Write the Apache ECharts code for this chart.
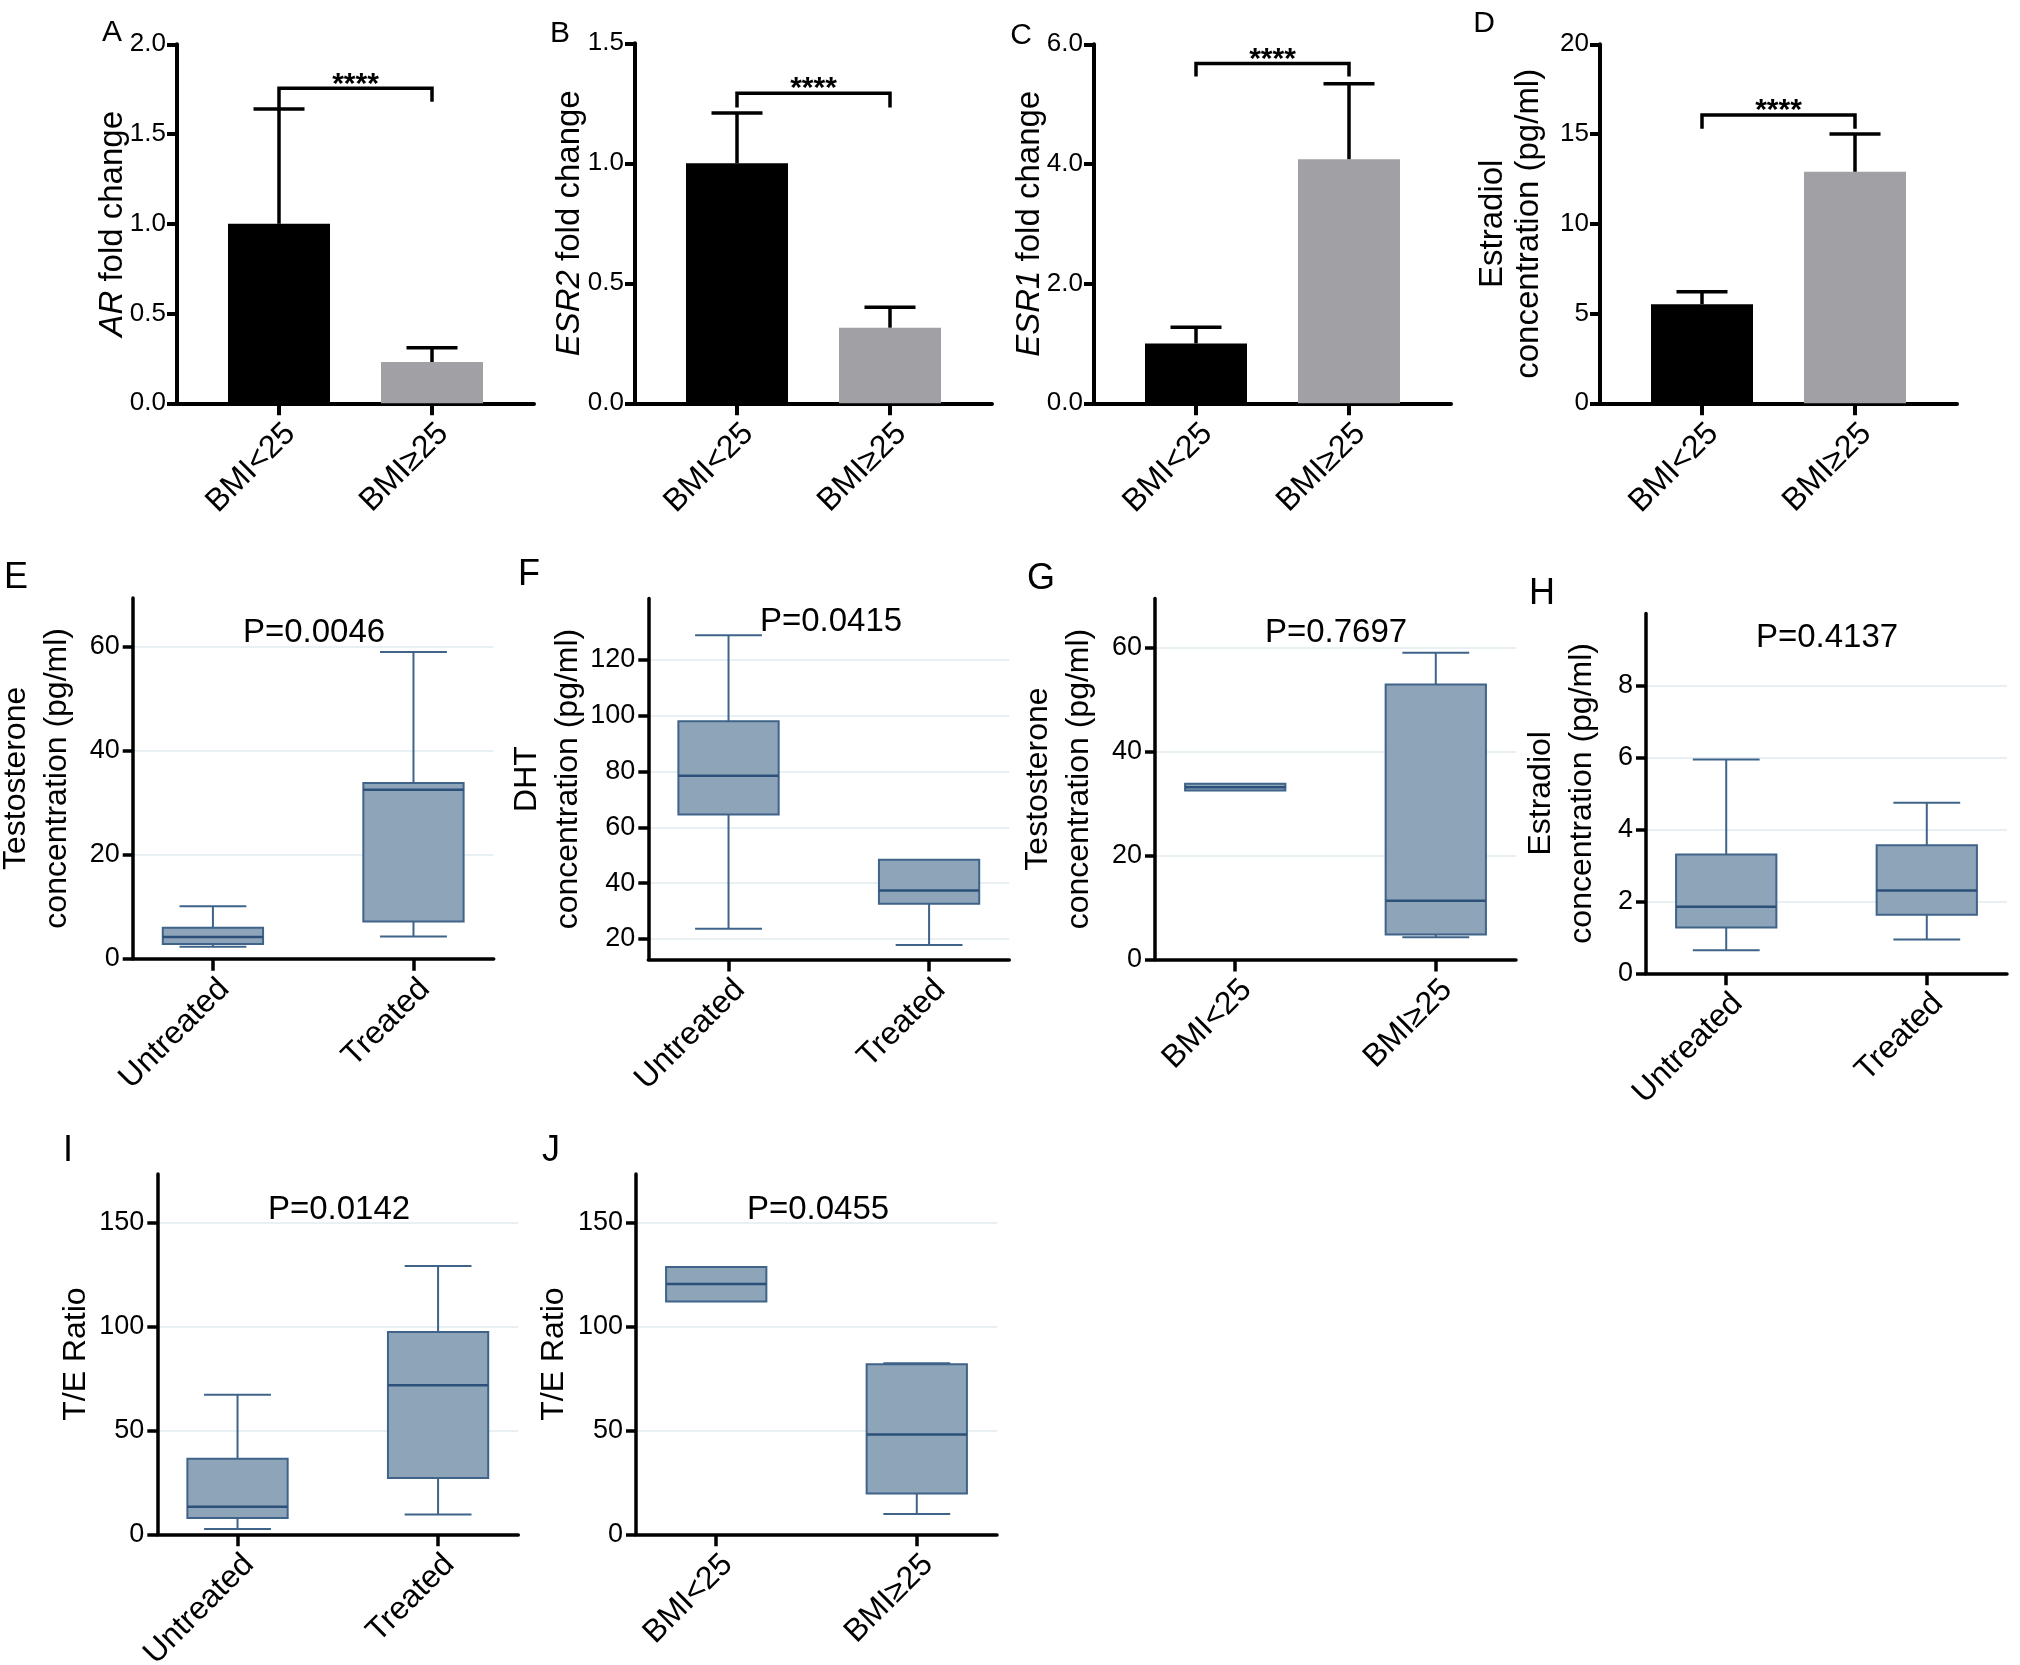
<!DOCTYPE html>
<html>
<head>
<meta charset="utf-8">
<script src="https://cdn.jsdelivr.net/npm/echarts@6/dist/echarts.min.js"></script>
<style>
  html, body { margin: 0; padding: 0; background: #fff; }
  #main { width: 2020px; height: 1665px; }
</style>
</head>
<body>
<div id="main"></div>
<script>
// groups
var bmiGroups = ['BMI<25', 'BMI≥25'];
var treatGroups = ['Untreated', 'Treated'];

// A-D: mean and top of error bar
var arMean = [1.0, 0.23];
var arErr = [1.64, 0.31];
var esr2Mean = [1.0, 0.315];
var esr2Err = [1.21, 0.40];
var esr1Mean = [1.0, 4.08];
var esr1Err = [1.27, 5.34];
var e2BarMean = [5.52, 12.9];
var e2BarErr = [6.22, 15.0];

// significance brackets: [top, left drop, right drop]
var sigA = [1.755, 1.64, 1.68];
var sigB = [1.292, 1.232, 1.232];
var sigC = [5.68, 5.46, 5.46];
var sigD = [16.06, 15.3, 15.3];

// E-J boxes: [min, Q1, median, Q3, max]
var testoTreat = [[2.3, 2.85, 4.2, 5.95, 10.1], [4.3, 7.15, 32.5, 33.8, 59.0]];
var dhtTreat = [[23.6, 64.6, 78.5, 98.0, 128.9], [17.8, 32.6, 37.3, 48.4, 48.4]];
var testoBmi = [[32.5, 32.5, 33.1, 33.8, 33.8], [4.3, 4.8, 11.3, 52.9, 59.0]];
var e2Treat = [[0.64, 1.27, 1.85, 3.30, 5.94], [0.94, 1.63, 2.30, 3.56, 4.74]];
var teTreat = [[2.5, 7.8, 13.2, 36.3, 67.2], [9.5, 27.1, 71.7, 97.3, 129.1]];
var teBmi = [[112.0, 112.0, 120.4, 128.6, 128.6], [9.8, 19.6, 48.0, 81.8, 82.3]];

var pValues = ['P=0.0046', 'P=0.0415', 'P=0.7697', 'P=0.4137', 'P=0.0142', 'P=0.0455'];

// tick labels
var ticksA = [0, 0.5, 1, 1.5, 2];
var ticksB = [0, 0.5, 1, 1.5];
var ticksC = [0, 2, 4, 6];
var ticksD = [0, 5, 10, 15, 20];
var ticksTesto = [0, 20, 40, 60];
var ticksDht = [20, 40, 60, 80, 100, 120];
var ticksE2 = [0, 2, 4, 6, 8];
var ticksRatio = [0, 50, 100, 150];

var fontFamily = '"Liberation Sans", Arial, Helvetica, sans-serif';
var boxFill = '#8ea5b9';
var boxLine = '#3f6389';

var panels = [
  { letter: 'A', lp: [112, 33], kind: 'bar', grid: [177, 44.3, 357, 359], y: [0, 2], ticks: ticksA, dec: 1,
    name: '{i|AR} fold change', gap: 46, cats: bmiGroups, mean: arMean, err: arErr, sig: sigA },
  { letter: 'B', lp: [560, 34], kind: 'bar', grid: [635, 43.3, 357, 360], y: [0, 1.5], ticks: ticksB, dec: 1,
    name: '{i|ESR2} fold change', gap: 47, cats: bmiGroups, mean: esr2Mean, err: esr2Err, sig: sigB },
  { letter: 'C', lp: [1021, 36], kind: 'bar', grid: [1094, 44.3, 357, 359], y: [0, 6], ticks: ticksC, dec: 1,
    name: '{i|ESR1} fold change', gap: 46, cats: bmiGroups, mean: esr1Mean, err: esr1Err, sig: sigC },
  { letter: 'D', lp: [1484, 24], kind: 'bar', grid: [1600, 44.3, 357, 359], y: [0, 20], ticks: ticksD, dec: 0,
    name: 'Estradiol\nconcentration (pg/ml)', gap: 53, cats: bmiGroups, mean: e2BarMean, err: e2BarErr, sig: sigD },
  { letter: 'E', lp: [16, 578], kind: 'box', grid: [132.7, 597.9, 361, 360.9], y: [0, 69.4], ticks: ticksTesto, dec: 0,
    name: 'Testosterone\nconcentration (pg/ml)', gap: 55, cats: treatGroups, boxes: testoTreat, p: 0, pp: [314, 633] },
  { letter: 'F', lp: [529, 575], kind: 'box', grid: [648.3, 598.6, 361, 360.9], y: [12.6, 142], ticks: ticksDht, dec: 0,
    name: 'DHT\nconcentration (pg/ml)', gap: 60, cats: treatGroups, boxes: dhtTreat, p: 1, pp: [831, 622] },
  { letter: 'G', lp: [1041, 579], kind: 'box', grid: [1155, 598.6, 361, 360.9], y: [0, 69.4], ticks: ticksTesto, dec: 0,
    name: 'Testosterone\nconcentration (pg/ml)', gap: 55, cats: bmiGroups, boxes: testoBmi, p: 2, pp: [1336, 633] },
  { letter: 'H', lp: [1542, 594], kind: 'box', grid: [1646, 613.4, 361, 359.9], y: [0, 10], ticks: ticksE2, dec: 0,
    name: 'Estradiol\nconcentration (pg/ml)', gap: 43, cats: treatGroups, boxes: e2Treat, p: 3, pp: [1827, 638] },
  { letter: 'I', lp: [68, 1151], kind: 'box', grid: [157.3, 1173.9, 361, 360.4], y: [0, 173.4], ticks: ticksRatio, dec: 0,
    name: 'T/E Ratio', gap: 61, cats: treatGroups, boxes: teTreat, p: 4, pp: [339, 1209.5] },
  { letter: 'J', lp: [551, 1151], kind: 'box', grid: [636, 1173.9, 361, 360.4], y: [0, 173.4], ticks: ticksRatio, dec: 0,
    name: 'T/E Ratio', gap: 61, cats: bmiGroups, boxes: teBmi, p: 5, pp: [818, 1209.5] }
];

function line(a, b, color, w) {
  return { type: 'line', shape: { x1: a[0], y1: a[1], x2: b[0], y2: b[1] }, style: { stroke: color, lineWidth: w } };
}

function renderErrorBar(params, api) {
  var x = api.value(0), y0 = api.value(1), y1 = api.value(2);
  return {
    type: 'group',
    children: [
      line(api.coord([x, y0]), api.coord([x, y1]), '#000', 3.5),
      line(api.coord([x - 1 / 6, y1]), api.coord([x + 1 / 6, y1]), '#000', 3.5)
    ]
  };
}

function renderBracket(params, api) {
  var x1 = api.value(0), x2 = api.value(1);
  var p0 = api.coord([x1, api.value(3)]), p1 = api.coord([x1, api.value(2)]);
  var p2 = api.coord([x2, api.value(2)]), p3 = api.coord([x2, api.value(4)]);
  return {
    type: 'group',
    children: [
      { type: 'polyline', shape: { points: [p0, p1, p2, p3] }, style: { stroke: '#000', lineWidth: 3.5, fill: null } },
      { type: 'text', style: { text: '****', x: (p1[0] + p2[0]) / 2, y: p1[1] - 4,
        align: 'center', verticalAlign: 'middle', textAlign: 'center', textVerticalAlign: 'middle',
        fontSize: 30, fontWeight: 'bold', fontFamily: fontFamily, fill: '#000' } }
    ]
  };
}

function renderBox(params, api) {
  var x = api.value(0);
  var lo = api.value(1), q1 = api.value(2), med = api.value(3), q3 = api.value(4), hi = api.value(5);
  var kids = [];
  if (hi > q3) {
    kids.push(line(api.coord([x, q3]), api.coord([x, hi]), boxLine, 2));
    kids.push(line(api.coord([x - 1 / 6, hi]), api.coord([x + 1 / 6, hi]), boxLine, 2));
  }
  if (lo < q1) {
    kids.push(line(api.coord([x, q1]), api.coord([x, lo]), boxLine, 2));
    kids.push(line(api.coord([x - 1 / 6, lo]), api.coord([x + 1 / 6, lo]), boxLine, 2));
  }
  var tl = api.coord([x - 0.25, q3]), br = api.coord([x + 0.25, q1]);
  kids.push({ type: 'rect', shape: { x: tl[0], y: tl[1], width: br[0] - tl[0], height: br[1] - tl[1] },
    style: { fill: boxFill, stroke: boxLine, lineWidth: 2 } });
  kids.push(line(api.coord([x - 0.25, med]), api.coord([x + 0.25, med]), '#2c5079', 2.5));
  return { type: 'group', children: kids };
}

var grids = [], xAxes = [], yAxes = [], series = [], graphics = [];

panels.forEach(function (p, i) {
  var isBar = p.kind === 'bar';
  var axisW = isBar ? 4 : 3.5;
  grids.push({ left: p.grid[0], top: p.grid[1], width: p.grid[2], height: p.grid[3],
    containLabel: false, outerBoundsMode: 'none' });

  xAxes.push({
    gridIndex: i, type: 'value',
    min: isBar ? 1 / 3 : 0.6, max: isBar ? 8 / 3 : 2.4,
    axisLine: { show: true, onZero: false, lineStyle: { color: '#000', width: axisW } },
    axisTick: { show: true, customValues: [1, 2], length: 12, lineStyle: { color: '#000', width: axisW } },
    axisLabel: { customValues: [1, 2], rotate: 45, margin: 14, verticalAlign: 'top',
      fontSize: 32, color: '#000', fontFamily: fontFamily,
      formatter: (function (cats) { return function (v) { return cats[Math.round(v) - 1]; }; })(p.cats) },
    splitLine: { show: false }
  });

  yAxes.push({
    gridIndex: i, type: 'value', min: p.y[0], max: p.y[1],
    axisLine: { show: true, onZero: false, lineStyle: { color: '#000', width: axisW } },
    axisTick: { show: true, customValues: p.ticks, length: 10, lineStyle: { color: '#000', width: axisW } },
    axisLabel: { customValues: p.ticks, margin: isBar ? 11 : 13, fontSize: isBar ? 26 : 27, color: '#000', fontFamily: fontFamily,
      formatter: (function (d) { return function (v) { return v.toFixed(d); }; })(p.dec) },
    splitLine: { show: !isBar, lineStyle: { color: '#e9f0f3', width: 2 } },
    name: p.name, nameLocation: 'middle', nameRotate: 90, nameGap: p.gap, nameMoveOverlap: false,
    nameTextStyle: { fontSize: isBar ? 33 : 32, lineHeight: isBar ? 36 : 41, color: '#000', fontFamily: fontFamily,
      rich: { i: { fontStyle: 'italic', fontSize: 33, color: '#000', fontFamily: fontFamily } } }
  });

  if (isBar) {
    series.push({
      type: 'bar', xAxisIndex: i, yAxisIndex: i, barWidth: 102, silent: true,
      data: p.mean.map(function (v, k) {
        return { value: [k + 1, v], itemStyle: { color: k === 0 ? '#000000' : '#a1a0a5' } };
      })
    });
    series.push({
      type: 'custom', xAxisIndex: i, yAxisIndex: i, renderItem: renderErrorBar, silent: true, z: 3,
      encode: { x: 0, y: [1, 2] },
      data: p.mean.map(function (v, k) { return [k + 1, v, p.err[k]]; })
    });
    series.push({
      type: 'custom', xAxisIndex: i, yAxisIndex: i, renderItem: renderBracket, silent: true, z: 4,
      encode: { x: [0, 1], y: [2, 3, 4] },
      data: [[1, 2, p.sig[0], p.sig[1], p.sig[2]]]
    });
  } else {
    series.push({
      type: 'custom', xAxisIndex: i, yAxisIndex: i, renderItem: renderBox, silent: true, z: 3,
      encode: { x: 0, y: [1, 2, 3, 4, 5] },
      data: p.boxes.map(function (b, k) { return [k + 1].concat(b); })
    });
    graphics.push({ type: 'text', x: p.pp[0], y: p.pp[1], silent: true,
      style: { text: pValues[p.p], fontSize: 33, fontFamily: fontFamily, fill: '#000',
        align: 'center', verticalAlign: 'middle', textAlign: 'center', textVerticalAlign: 'middle' } });
  }

  graphics.push({ type: 'text', x: p.lp[0], y: p.lp[1], silent: true,
    style: { text: p.letter, fontSize: isBar ? 30 : 36, fontFamily: fontFamily, fill: '#000',
      align: 'center', verticalAlign: 'middle', textAlign: 'center', textVerticalAlign: 'middle' } });
});

var chart = echarts.init(document.getElementById('main'), null, { renderer: 'canvas' });
chart.setOption({
  backgroundColor: '#fff',
  animation: false,
  grid: grids,
  xAxis: xAxes,
  yAxis: yAxes,
  series: series,
  graphic: graphics
});
</script>
</body>
</html>
